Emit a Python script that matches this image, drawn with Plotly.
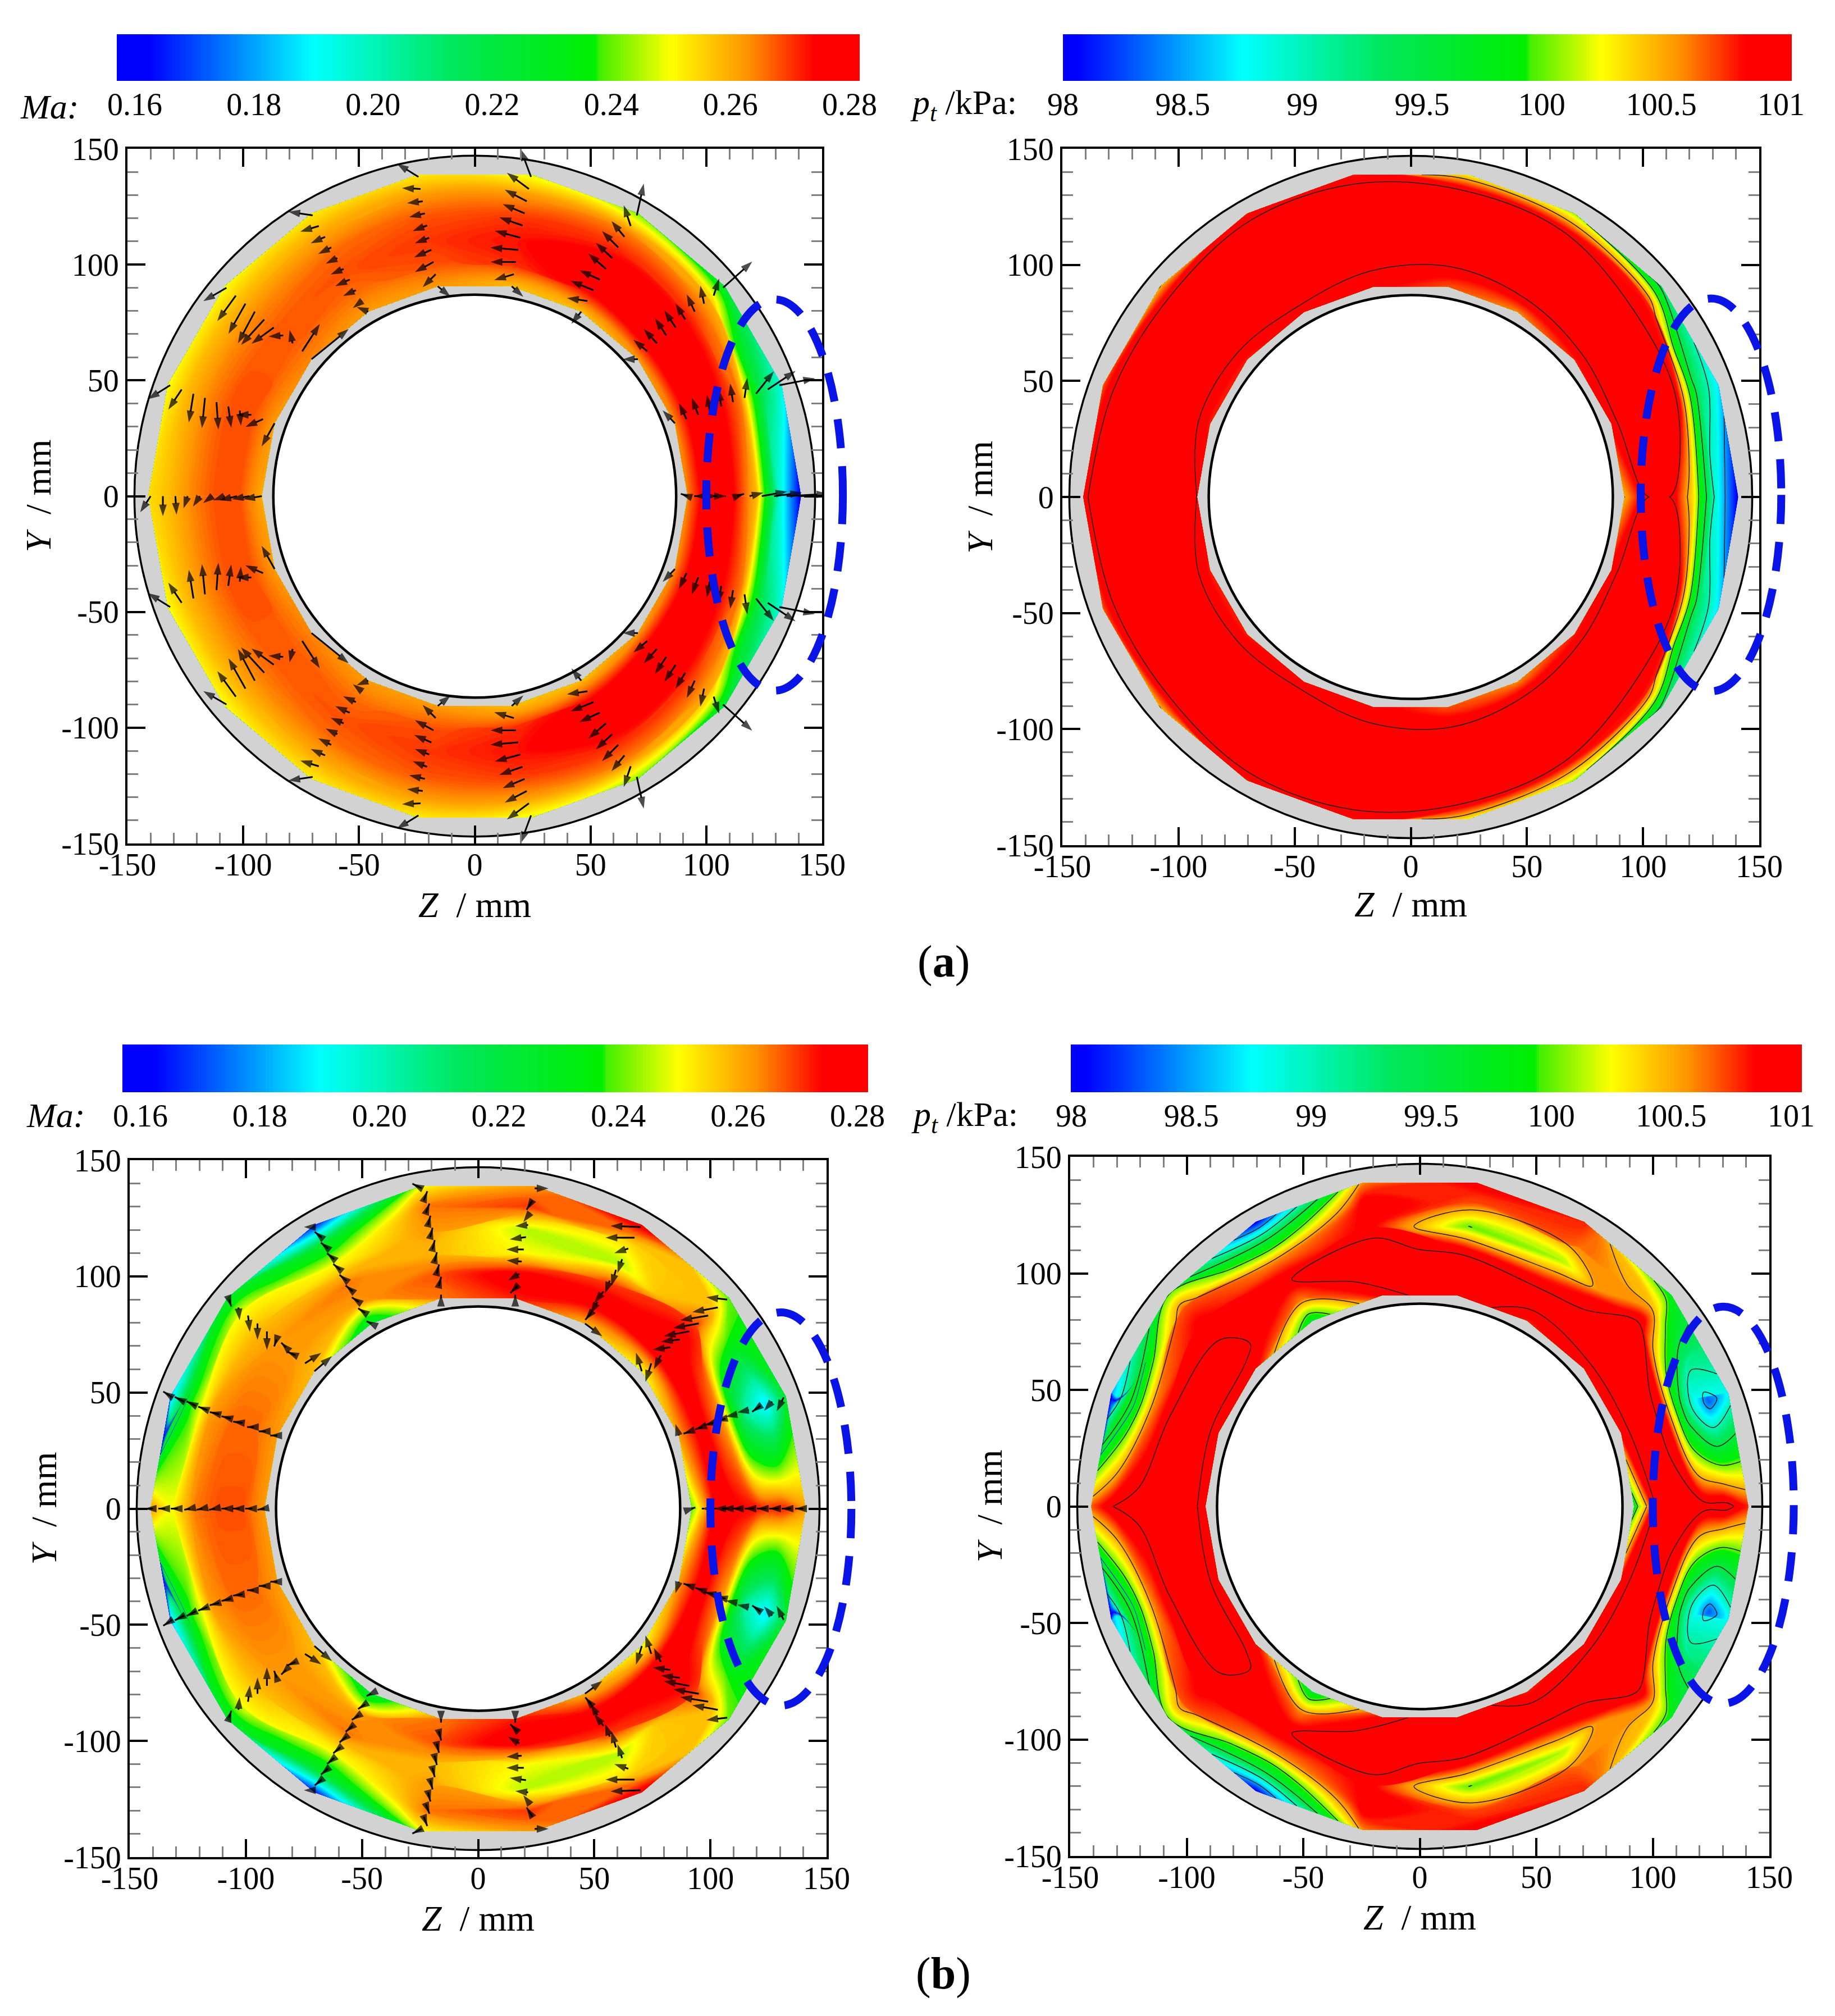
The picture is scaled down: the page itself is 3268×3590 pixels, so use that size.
#%%
# four annulus plane maps (Ma with flow vectors, total pressure) for two cases
import numpy as np
import plotly.graph_objects as go

# measuring rakes, upper half (lower half of the plane is the mirror image)
rake_angle = [0, 20, 40, 60, 80, 100, 120, 140, 160, 180]
row_r = [92, 102, 112, 122, 132, 141]
arrow_r = [92, 97.3, 102.7, 108, 113.3, 118.7, 124, 129.3, 134.7, 140]

ma_a = [
    [.264, .282, .274, .258, .195, .160],
    [.264, .282, .276, .265, .215, .195],
    [.262, .282, .280, .270, .260, .225],
    [.258, .276, .280, .272, .264, .242],
    [.258, .271, .273, .270, .262, .248],
    [.262, .268, .270, .268, .262, .252],
    [.262, .266, .268, .266, .260, .252],
    [.264, .267, .267, .264, .258, .250],
    [.262, .268, .268, .264, .258, .250],
    [.260, .268, .268, .264, .258, .254],
]
ma_b = [
    [.240, .275, .275, .272, .272, .262],
    [.262, .278, .262, .205, .187, .225],
    [.250, .278, .278, .270, .258, .240],
    [.260, .278, .270, .245, .255, .278],
    [.272, .278, .250, .245, .270, .262],
    [.265, .268, .258, .262, .265, .250],
    [.225, .262, .265, .250, .225, .165],
    [.258, .262, .262, .258, .250, .225],
    [.262, .266, .266, .262, .235, .185],
    [.262, .268, .268, .265, .250, .262],
]
pt_a = [
    [100.5, 101.0, 101.0, 100.3, 98.8, 98.0],
    [100.9, 101.3, 101.3, 101.0, 99.3, 98.7],
    [100.8, 101.3, 101.3, 101.1, 100.8, 99.4],
    [100.6, 101.2, 101.3, 101.2, 101.0, 100.1],
    [100.7, 101.05, 101.3, 101.3, 101.2, 100.3],
    [100.9, 101.05, 101.3, 101.3, 101.25, 100.8],
    [100.9, 101.2, 101.3, 101.3, 101.35, 100.8],
    [100.8, 101.2, 101.3, 101.3, 101.25, 100.5],
    [100.8, 101.2, 101.3, 101.3, 101.25, 100.7],
    [101.0, 101.2, 101.3, 101.3, 101.35, 100.9],
]
pt_b = [
    [99.8, 101.1, 101.1, 101.1, 101.1, 100.8],
    [100.9, 101.2, 100.9, 99.2, 98.3, 98.8],
    [100.9, 101.2, 101.2, 101.1, 100.4, 99.8],
    [100.8, 101.2, 100.8, 100.1, 100.7, 100.8],
    [101.2, 101.3, 100.9, 100.0, 100.7, 100.9],
    [100.9, 101.2, 101.1, 100.9, 100.95, 100.6],
    [99.7, 100.6, 101.0, 100.6, 99.5, 98.0],
    [100.9, 101.1, 101.0, 100.9, 100.7, 100.0],
    [100.9, 101.2, 101.1, 100.6, 99.5, 98.5],
    [100.9, 101.2, 101.2, 101.1, 101.0, 100.7],
]

# flow vectors (dZ, dY in mm), inner to outer along each rake
arrows_a = [
    [(-3, 1), (-2.5, 0), (2, 0), (.5, 0), (3, 1), (6, 1.5), (11, 2), (12, 1.5), (18, 1), (20, .5)],
    [(-5.3, 5.6), (-3.2, 6.8), (-2.8, 7.4), (-1.2, 6.8), (-1.2, 7.4), (-1.2, 8), (1.2, 8.7), (7.7, 9.7), (12, 8), (15.4, 3)],
    [(-6.5, 0), (-6, 5), (-5.7, 6.2), (-4.9, 7.4), (-4.9, 7.4), (-4.2, 6.8), (-3.4, 7.4), (-1.6, 7.8), (2.4, 7.4), (12.6, 11.3)],
    [(-4.3, -5.3), (-8.8, 1.3), (-10, 4), (-8.8, 4), (-7.6, 6.6), (-7, 6.6), (-7, 7), (-5.6, 6.8), (-3, 9), (3, 13.7)],
    [(5, -4.5), (-8.5, -2.5), (-11, 0), (-12, 1), (-11, 3), (-10, 3.5), (-9.5, 4), (-9.5, 5), (-9.5, 7), (-4.5, 12)],
    [(5.5, -4.5), (-5.6, -5.6), (-8, -4.4), (-7.4, -3.2), (-6.2, -2.4), (-6.2, -2.4), (-6.8, -1.6), (-6.8, -.8), (-8, .4), (-9.3, 5.7)],
    [(-5, 2), (-4, -3), (-5.5, -2.5), (-6.2, -2.8), (-5.6, -2.4), (-5, -2.4), (-5.6, -2.8), (-6.2, -2.8), (-8, -2.4), (-10.5, 1.6)],
    [(16, 13), (7.6, 11.8), (-1.3, 5.8), (-6.3, -.5), (-9.6, -7), (-10, -11), (-7.3, -13.7), (-7.3, -13), (-8, -11), (-10, -5.8)],
    [(-5.6, -10), (-7.6, -3.4), (-6.3, 0), (.5, -6.5), (1.3, -9.2), (.8, -11.8), (-1.3, -13), (-2, -12.4), (-5.8, -8.7), (-9.6, -6)],
    [(-8, -1.3), (-7.6, -1.3), (-7.6, -1.8), (-5, -1.8), (-4, -3), (-3, -4.5), (-1.8, -5.3), (.5, -8), (0, -8.7), (-4.5, -7)],
]
arrows_b = [
    [(1.5, .5), (-1, 0), (-1, 0), (-3, 0), (-4, 0), (-4, 0), (-4, 0), (-4, 0), (-4, 0), (-3.5, 0)],
    [(-1.5, 5), (-3, -1), (-3, -1), (-4, -1), (-4, -1), (-5, -1), (-5, -1), (-3.5, -2.5), (-3.5, -4), (-3, -6)],
    [(-2.5, 8), (-2.5, -8), (-3, -6), (-7.5, -1), (-8, -1), (-11, -2), (-11, -2), (-12, -2), (-11, -2), (-9, 1)],
    [(7.5, -5.5), (-2.5, -3), (-3, -5), (-4, -5), (-2, -5.5), (-2, -7), (-2, -6), (-6, -2), (-12.5, 0), (-13, .5)],
    [(0, 1.5), (-3, -3), (-5, -3), (-6.5, .5), (-7.5, 0), (-7, -1), (-5.5, -.5), (-3, -4), (-2.5, -4), (6, 0)],
    [(0, 1.5), (1, 4), (1, 4), (1, 4), (1, 4), (1, 4), (1, 4), (1.5, 4), (1.5, 4), (-4, 2)],
    [(-2, 1), (-3, 2), (-3, 2), (-3, 2.5), (-3, 2.5), (-3, 2.5), (-3, 2.5), (-3, 2.5), (-3, 2.5), (-5, 0)],
    [(7.5, 6.5), (7, 4.5), (-3.5, 1.5), (-2, 2), (-1, -3), (0, -8), (0, -7), (.8, -7), (.5, -5.5), (1, -3)],
    [(-3, 0), (-3, 0), (-3, 0), (-4, .5), (-4, 1), (-4, 1), (-4, 1.5), (-4, 2), (-4, 2), (-4, 2.5)],
    [(-3, -.5), (-3, 0), (-3, 0), (-2.5, 0), (-2.5, -.5), (-2.5, -.5), (-2.5, -.5), (-3, 0), (-3, 0), (-3.5, 0)],
]

axis_ticks = [-150, -100, -50, 0, 50, 100, 150]
ma_ticks = [0.16, 0.18, 0.20, 0.22, 0.24, 0.26, 0.28]
ma_ticktext = ['0.16', '0.18', '0.20', '0.22', '0.24', '0.26', '0.28']
pt_ticks = [98, 98.5, 99, 99.5, 100, 100.5, 101]
pt_ticktext = ['98', '98.5', '99', '99.5', '100', '100.5', '101']
pt_lines = [98.503, 99.003, 99.503, 100.003, 100.503, 101.003]

W, H = 3268, 3590
PAGE = 8  # browser body margin around the plot
FONT = 'Liberation Serif'
rainbow = [
    [0, '#0000ff'], [.02, '#0000ff'], [.25, '#00ffff'], [.44, '#00e860'],
    [.50, '#00e840'], [.645, '#00f000'], [.65, '#40f000'], [.75, '#ffff00'],
    [.86, '#ff9000'], [.95, '#ff0000'], [1, '#ff0000'],
]

# frame px (left, right, top, bottom), colorbar px (left, right, top, bottom, px of low tick, px of high tick)
panels = [
    dict(frame=(227, 1464, 265, 1502), bar=(208, 1531, 61, 144, 240, 1513), ellipse=(100, 159, -84, 85),
         z=ma_a, lo=.16, hi=.28, arrows=arrows_a, title_y=1616, title_x=68, ticks=ma_ticks, text=ma_ticktext),
    dict(frame=(1892, 3133, 265, 1505), bar=(1893, 3191, 61, 144, 1893, 3172), ellipse=(99, 159.5, -83.7, 85.5),
         z=pt_a, lo=98, hi=101, lines=pt_lines, title_y=1614, title_x=1745, ticks=pt_ticks, text=pt_ticktext),
    dict(frame=(231, 1472, 2066, 3307), bar=(218, 1546, 1860, 1945, 250, 1527), ellipse=(100, 160.7, -84.8, 84.5),
         z=ma_b, lo=.16, hi=.28, arrows=arrows_b, title_y=3420, title_x=78, ticks=ma_ticks, text=ma_ticktext),
    dict(frame=(1906, 3151, 2060, 3305), bar=(1907, 3209, 1860, 1945, 1908, 3190), ellipse=(100, 160.5, -84.6, 85.7),
         z=pt_b, lo=98, hi=101, lines=pt_lines, title_y=3418, title_x=1762, ticks=pt_ticks, text=pt_ticktext),
]


def px(x):
    return (x - PAGE) / W


def py(y):
    return 1 - (y - PAGE) / H


fig = go.Figure()
layout = dict(width=W, height=H, margin=dict(l=0, r=0, t=0, b=0, autoexpand=False), autosize=False,
              paper_bgcolor='white', plot_bgcolor='white', showlegend=False,
              font=dict(family=FONT, size=56, color='black'))
shapes = []
notes = []

theta = np.radians(rake_angle)
rr = np.array(row_r, dtype=float)
rake_index = list(range(len(rake_angle)))
hidden = dict(showgrid=False, minorgridcount=0, startline=False, endline=False,
              showticklabels='none', smoothing=0, linewidth=0)

for i, p in enumerate(panels):
    n = i + 1
    xa, ya = 'x%d' % n, 'y%d' % n
    left, right, top, bottom = p['frame']
    z = np.array(p['z'])
    step = (p['hi'] - p['lo']) / 160

    # one polar grid per half of the plane, both fed by the same rake table
    for side, sign in (('u', 1), ('l', -1)):
        cid = 'grid%d%s' % (n, side)
        gx = np.outer(np.cos(theta), rr)
        gy = sign * np.outer(np.sin(theta), rr)
        fig.add_trace(go.Carpet(carpet=cid, a=rr, b=rake_index, x=gx, y=gy, xaxis=xa, yaxis=ya,
                                aaxis=hidden, baxis=hidden))
        # levels are offset a little so none falls exactly on a table value
        fig.add_trace(go.Contourcarpet(carpet=cid, z=z, xaxis=xa, yaxis=ya, a=rr, b=rake_index,
                                       colorscale=rainbow, zmin=p['lo'], zmax=p['hi'],
                                       showscale=False, autocontour=False,
                                       contours=dict(start=p['lo'] + step * .37, end=p['hi'] - step * .63, size=step,
                                                     coloring='fill', showlines=False),
                                       line=dict(width=0)))
        for lev in p.get('lines', []):
            fig.add_trace(go.Contourcarpet(carpet=cid, z=z, xaxis=xa, yaxis=ya, a=rr, b=rake_index,
                                           showscale=False, autocontour=False,
                                           contours=dict(start=lev, end=lev, size=1, coloring='none'),
                                           line=dict(color='#222222', width=1.5)))

    if 'arrows' in p:
        ax, ay, asize = [], [], []
        for sign in (1, -1):
            for k, rake in enumerate(p['arrows']):
                if sign < 0 and rake_angle[k] in (0, 180):
                    continue  # rakes on the Y=0 line are only there once
                for r, (dz, dy) in zip(arrow_r, rake):
                    tz = r * np.cos(theta[k])
                    ty = sign * r * np.sin(theta[k])
                    ax += [tz, tz + dz, None]
                    ay += [ty, ty + sign * dy, None]
                    asize += [0, 22, 0]
        fig.add_trace(go.Scatter(x=ax, y=ay, xaxis=xa, yaxis=ya, mode='lines+markers',
                                 line=dict(color='black', width=3),
                                 marker=dict(symbol='arrow', angleref='previous', size=asize, color='black',
                                             line=dict(width=0))))

    axis = dict(range=[-150, 150], tickmode='array', tickvals=axis_ticks, ticktext=[str(t) for t in axis_ticks],
                ticks='inside', ticklen=32, tickwidth=4, tickcolor='black', showgrid=False, zeroline=False,
                showline=True, linecolor='black', linewidth=4, mirror='ticks',
                tickfont=dict(family=FONT, size=56, color='black'),
                minor=dict(ticks='inside', ticklen=19, tickwidth=3, tickcolor='#808080', dtick=10, tick0=0, showgrid=False))
    layout['xaxis%d' % n] = dict(axis, domain=[px(left), px(right)], anchor=ya, ticklabelstandoff=-14)
    layout['yaxis%d' % n] = dict(axis, domain=[py(bottom), py(top)], anchor=xa)

    # grey annulus behind the map
    shapes.append(dict(type='circle', xref=xa, yref=ya, x0=-147, x1=147, y0=-147, y1=147, layer='below',
                       fillcolor='#d2d2d2', line=dict(color='black', width=3.5)))
    shapes.append(dict(type='circle', xref=xa, yref=ya, x0=-87, x1=87, y0=-87, y1=87, layer='below',
                       fillcolor='white', line=dict(color='black', width=4.5)))

    # dashed ellipse marking the distortion zone, allowed to run past the frame
    ex0, ex1, ey0, ey1 = p['ellipse']
    sx = (right - left) / 300
    sy = (bottom - top) / 300
    cx = (left + right) / 2
    cy = (top + bottom) / 2
    shapes.append(dict(type='circle', xref='paper', yref='paper', layer='above',
                       x0=px(cx + ex0 * sx), x1=px(cx + ex1 * sx), y0=py(cy - ey0 * sy), y1=py(cy - ey1 * sy),
                       line=dict(color='#0a14e6', width=14, dash='52px,32px')))

    # colorbar strip
    n2 = n + 4
    bl, br, bt, bb, tick_l, tick_h = p['bar']
    per_px = (p['hi'] - p['lo']) / (tick_h - tick_l)
    v0 = p['lo'] - (tick_l - bl) * per_px
    v1 = p['hi'] + (br - tick_h) * per_px
    levels = np.linspace(v0, v1, 400)
    fig.add_trace(go.Heatmap(x=levels, y=[0, 1], z=[levels, levels], colorscale=rainbow, zmin=p['lo'], zmax=p['hi'],
                             showscale=False, xaxis='x%d' % n2, yaxis='y%d' % n2, hoverinfo='skip'))
    layout['xaxis%d' % n2] = dict(domain=[px(bl), px(br)], range=[v0, v1], anchor='y%d' % n2, tickmode='array',
                                  tickvals=p['ticks'], ticktext=p['text'], ticks='', ticklabelstandoff=4,
                                  showgrid=False, zeroline=False, showline=False,
                                  tickfont=dict(family=FONT, size=56, color='black'))
    layout['yaxis%d' % n2] = dict(domain=[py(bb), py(bt)], range=[0, 1], anchor='x%d' % n2, visible=False)

    # axis titles
    notes.append(dict(text='<i>Z</i>  / mm', x=px(cx), y=py(p['title_y'] - 4), font=dict(family=FONT, size=64)))
    notes.append(dict(text='<i>Y</i>  / mm', x=px(p['title_x']), y=py(cy), textangle=-90,
                      font=dict(family=FONT, size=64)))

for text, x, y, size in [
    ('<i>Ma:</i>', 88, 190, 62),
    ('<i>p<sub>t</sub></i> /kPa:', 1716, 187, 62),
    ('<i>Ma:</i>', 99, 1986, 62),
    ('<i>p<sub>t</sub></i> /kPa:', 1718, 1988, 62),
    ('(<b>a</b>)', 1680, 1712, 80),
    ('(<b>b</b>)', 1680, 3514, 80),
]:
    notes.append(dict(text=text, x=px(x), y=py(y), font=dict(family=FONT, size=size)))

for note in notes:
    note.update(xref='paper', yref='paper', showarrow=False, xanchor='center', yanchor='middle')

layout['shapes'] = shapes
layout['annotations'] = notes
fig.update_layout(**layout)
fig.write_html("out.html")
